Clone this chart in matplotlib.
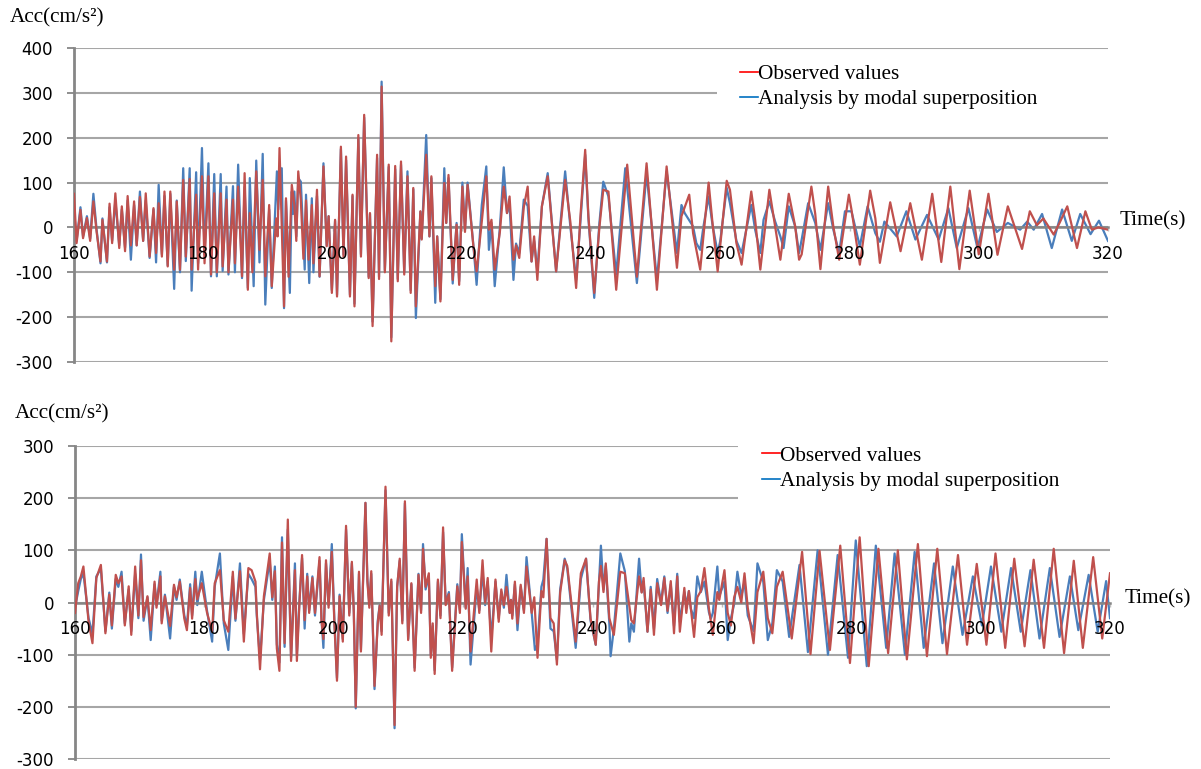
import numpy as np
import matplotlib
matplotlib.use("Agg")
import matplotlib.pyplot as plt
from matplotlib.lines import Line2D
from matplotlib.patches import Rectangle

# (time s, acc cm/s2), peak to peak
top_observed = [
    (160.0, 75), (160.4, -35), (161.0, 39), (161.4, -24), (162.0, 21), (162.5, -30), (163.0, 58),
    (163.5, -10), (164.1, -76), (164.4, 17), (165.1, -76), (165.5, 53), (165.9, -35), (166.4, 76),
    (167.0, -46), (167.4, 47), (167.9, -53), (168.3, 70), (168.8, -40), (169.3, 58), (169.7, -40),
    (170.2, 68), (170.7, -30), (171.1, 76), (171.7, -65), (172.3, 43), (172.7, -57), (173.1, 54),
    (173.6, -65), (174.0, 80), (174.5, -87), (174.9, 80), (175.5, -94), (175.9, 58), (176.4, -94),
    (176.9, 106), (177.3, -65), (177.9, 108), (178.2, -94), (178.9, 73), (179.2, -94), (179.8, 114),
    (180.2, -80), (180.8, 114), (181.2, -105), (181.7, 76), (182.1, -100), (182.7, 76), (183.0, -87),
    (183.6, 62), (183.9, -100), (184.6, 62), (184.9, -80), (185.4, 91), (186.0, -109), (186.4, 121),
    (186.9, -139), (187.2, 32), (187.6, -100), (188.2, 125), (188.7, -50), (189.2, 106), (189.6, -109),
    (190.2, 50), (190.6, -131), (191.3, 20), (191.5, -20), (191.8, 177), (192.5, -176), (192.8, 65),
    (193.2, -110), (193.7, 95), (194.1, 50), (194.4, -30), (194.7, 125), (195.1, 60), (195.5, -70),
    (195.9, 60), (196.3, -72), (196.8, 50), (197.05, -80), (197.6, 84), (198.0, -109), (198.6, 136),
    (199.1, -42), (199.4, 25), (199.9, -146), (200.4, 17), (200.7, -154), (201.3, 180), (201.7, -65),
    (202.1, 158), (202.7, -154), (203.1, 73), (203.4, -176), (204.0, 206), (204.4, -65), (204.9, 251),
    (205.6, -113), (205.8, 32), (206.2, -220), (206.9, 162), (207.2, -115), (207.6, 314), (208.1, -100),
    (208.7, 140), (209.1, -254), (209.7, 137), (210.1, -120), (210.6, 147), (211.1, -105), (211.6, 114),
    (212.1, -146), (212.5, 88), (212.9, -176), (213.6, 36), (213.8, -27), (214.5, 162), (215.0, -20),
    (215.3, 114), (215.9, -131), (216.2, -20), (216.7, -165), (217.3, 99), (217.6, 10), (217.95, 117),
    (218.6, -117), (219.2, 6), (219.6, -128), (220.1, 91), (220.5, -10), (220.9, 95), (221.8, -42),
    (222.3, -98), (223.1, 13), (223.8, 114), (224.2, -5), (224.6, 17), (225.1, -94), (225.9, -10),
    (226.5, 91), (227.0, 32), (227.4, 69), (228.0, -72), (228.4, -40), (228.9, -68), (229.6, 45),
    (230.2, 91), (230.8, -76), (231.2, -20), (231.7, -117), (232.4, 47), (233.3, 114), (234.6, -98),
    (236.0, 106), (236.8, 13), (237.7, -135), (238.4, 32), (239.1, 173), (239.6, 25), (240.5, -146),
    (241.3, 0), (241.9, 84), (242.7, 80), (243.9, -139), (245.6, 140), (247.1, -110), (248.6, 143),
    (250.2, -139), (251.7, 136), (253.3, -90), (254.0, 25), (255.2, 73), (255.8, -13), (256.9, -94),
    (258.2, 100), (258.8, 10), (259.6, -98), (261.0, 104), (261.5, 84), (262.5, -35), (263.3, -83),
    (264.8, 80), (265.4, 17), (266.2, -94), (267.6, 84), (268.5, 2), (269.3, -72), (270.6, 75),
    (271.6, 2), (272.2, -72), (272.6, -60), (274.1, 91), (274.7, 30), (275.5, -93), (276.7, 91),
    (277.5, 2), (278.4, -72), (279.9, 73), (280.3, 40), (281.6, -83), (283.2, 82), (284.0, 20),
    (284.7, -79), (286.3, 56), (287.9, -53), (289.4, 54), (291.2, -72), (292.8, 75), (294.2, -77),
    (295.6, 91), (297.0, -93), (298.6, 82), (300.0, -60), (301.5, 75), (302.9, -61), (304.5, 47),
    (306.7, -48), (307.9, 36), (309.0, 5), (310.0, 20), (311.6, -16), (312.5, 10), (313.7, 47),
    (315.2, -46), (316.5, 36), (317.5, -5), (318.5, 0), (320.0, -5),
]

top_analysis = [
    (160.0, 40), (160.4, -30), (161.0, 45), (161.4, -20), (162.0, 25), (162.5, -25), (163.0, 75),
    (163.5, -5), (164.1, -80), (164.4, 20), (165.1, -78), (165.5, 45), (165.9, -30), (166.4, 60),
    (167.0, -40), (167.4, 40), (167.9, -45), (168.3, 60), (168.8, -72), (169.3, 50), (169.7, -40),
    (170.2, 80), (170.7, -30), (171.1, 60), (171.7, -68), (172.3, 40), (172.7, -78), (173.1, 95),
    (173.6, -60), (174.0, 70), (174.5, -85), (174.9, 75), (175.5, -137), (175.9, 60), (176.4, -100),
    (176.9, 132), (177.3, -75), (177.9, 132), (178.2, -141), (178.9, 123), (179.2, -80), (179.8, 177),
    (180.2, -60), (180.8, 143), (181.2, -109), (181.7, 119), (182.1, -109), (182.7, 119), (183.0, -97),
    (183.6, 91), (183.9, -105), (184.6, 92), (184.9, -100), (185.4, 140), (186.0, -113), (186.4, 90),
    (186.9, -135), (187.2, 110), (187.8, -131), (188.2, 149), (188.7, -78), (189.2, 164), (189.6, -172),
    (190.2, 40), (190.6, -135), (191.4, 125), (191.6, 40), (191.8, 110), (192.15, 132), (192.5, -180),
    (192.8, 60), (193.4, -146), (193.7, 80), (193.9, 30), (194.1, 80), (194.4, -20), (194.7, 110),
    (195.1, 102), (195.7, -94), (195.9, 73), (196.4, -124), (196.8, 65), (197.05, -100), (197.6, 70),
    (198.0, -110), (198.6, 143), (199.1, -40), (199.4, 25), (199.9, -140), (200.4, 15), (200.7, -150),
    (201.3, 175), (201.7, -60), (202.1, 150), (202.7, -150), (203.1, 70), (203.4, -170), (204.0, 200),
    (204.4, -60), (204.9, 245), (205.6, -110), (205.8, 30), (206.2, -210), (206.9, 155), (207.2, -110),
    (207.6, 325), (208.1, -95), (208.7, 135), (209.1, -245), (209.7, 130), (210.1, -115), (210.6, 140),
    (211.1, -100), (211.6, 125), (212.1, -140), (212.5, 85), (212.9, -202), (213.6, 35), (213.8, -25),
    (214.5, 206), (215.0, -20), (215.3, 110), (215.9, -168), (216.2, -20), (216.7, -160), (217.3, 132),
    (217.6, 10), (217.95, 110), (218.6, -125), (219.2, 10), (219.6, -120), (220.1, 100), (220.5, -5),
    (220.9, 100), (221.8, -40), (222.3, -128), (223.1, 50), (223.8, 136), (224.2, -50), (224.6, 10),
    (225.1, -131), (225.9, 0), (226.5, 134), (227.0, 32), (227.4, 50), (228.0, -117), (228.4, -36),
    (228.9, -57), (229.6, 62), (230.2, 48), (230.8, -76), (231.2, -30), (231.7, -98), (232.4, 47),
    (233.3, 121), (234.6, -98), (236.0, 125), (236.8, 2), (237.7, -117), (238.4, 20), (239.1, 162),
    (239.6, 20), (240.5, -157), (241.3, 10), (241.9, 102), (242.7, 69), (243.9, -105), (245.3, 132),
    (247.1, -124), (248.6, 121), (250.2, -117), (251.7, 125), (253.3, -57), (254.0, 50), (254.5, 32),
    (255.8, 2), (256.3, -35), (256.9, -50), (257.4, 2), (258.2, 69), (258.8, 6), (259.6, -57),
    (260.0, -30), (261.0, 88), (261.5, 54), (262.5, -30), (263.3, -57), (264.8, 50), (265.4, -5),
    (266.2, -57), (266.7, 17), (267.6, 58), (268.5, 13), (269.3, -20), (269.8, -46), (270.6, 47),
    (271.6, 2), (272.2, -57), (272.6, -27), (273.6, 54), (274.7, 10), (275.5, -50), (276.7, 54),
    (277.5, -5), (278.4, -57), (279.3, 36), (280.3, 36), (281.6, -42), (282.8, 47), (284.0, -13),
    (284.7, -32), (285.4, 13), (287.3, -20), (288.8, 36), (290.2, -27), (292.0, 28), (293.8, -27),
    (295.3, 43), (296.6, -46), (298.4, 43), (299.8, -46), (301.3, 40), (302.8, -10), (304.5, 10),
    (306.4, -5), (307.5, 13), (308.5, -5), (309.8, 30), (311.3, -46), (312.9, 40), (314.4, -30),
    (315.7, 30), (317.3, -15), (318.6, 15), (320.0, -30),
]

bottom_observed = [
    (160.0, -20), (160.5, 37), (160.9, 50), (161.3, 69), (162.1, -37), (162.7, -78), (163.3, 47),
    (164.0, 72), (164.4, 0), (164.7, -59), (165.3, 15), (165.7, -44), (166.3, 53), (166.7, 37),
    (167.2, 50), (167.7, -44), (168.3, 31), (168.7, -62), (169.3, 69), (169.8, -25), (170.2, 81),
    (170.6, -28), (171.2, 12), (171.7, -53), (172.3, 40), (172.6, -10), (173.2, 50), (173.4, -40),
    (173.9, 12), (174.7, -45), (175.3, 34), (175.7, 10), (176.2, 40), (176.9, -31), (177.3, -53),
    (177.8, 28), (178.1, -31), (178.6, 45), (178.9, 6), (179.6, 37), (180.4, -19), (181.2, -56),
    (181.6, 37), (182.4, 62), (183.0, -34), (183.7, -56), (184.4, 59), (184.8, -31), (185.5, 60),
    (186.1, -75), (186.8, 66), (187.3, 62), (187.9, 40), (188.1, -19), (188.6, -128), (189.2, 12),
    (190.1, 94), (190.5, 10), (190.9, 60), (191.2, -88), (191.6, -131), (192.0, 115), (192.4, -78),
    (192.9, 159), (193.4, -112), (194.0, 62), (194.3, -112), (194.7, 0), (195.1, 91), (195.5, -34),
    (195.9, 50), (196.2, -20), (196.7, 47), (197.1, -20), (197.8, 87), (198.1, -34), (198.4, -70),
    (198.8, 81), (199.2, -10), (199.7, 97), (200.1, -40), (200.5, -150), (200.9, 12), (201.4, -75),
    (201.9, 147), (202.4, -25), (202.8, 78), (203.1, -20), (203.4, -200), (203.9, 59), (204.2, -94),
    (204.9, 191), (205.2, 40), (205.5, -10), (205.8, 60), (206.3, -160), (206.8, -40), (207.1, -6),
    (207.4, -62), (208.0, 222), (208.5, -25), (208.9, 44), (209.4, -235), (209.8, 30), (210.2, 84),
    (210.6, -40), (211.0, 194), (211.5, -72), (212.0, 37), (212.5, -131), (213.1, 53), (213.5, -20),
    (213.8, 103), (214.2, 30), (214.7, 56), (215.0, -106), (215.3, -40), (215.6, -137), (216.1, 44),
    (216.5, -30), (216.9, 144), (217.3, -5), (217.8, 16), (218.3, -131), (219.1, 31), (219.5, -20),
    (219.8, 116), (220.4, -12), (220.7, 50), (221.15, -94), (222.1, 44), (222.5, -20), (223.0, 81),
    (223.4, 0), (223.8, 47), (224.35, -94), (225.0, 44), (225.5, -37), (225.9, 25), (226.3, -5),
    (226.7, 30), (227.2, -20), (227.4, 5), (227.6, -31), (228.0, 40), (228.4, -40), (228.9, 34),
    (229.4, -20), (229.8, 69), (230.6, -20), (231.0, 10), (231.5, -106), (232.1, 22), (232.4, 10),
    (232.9, 122), (233.5, -30), (234.0, -40), (234.5, -119), (235.0, 19), (235.7, 81), (236.1, 70),
    (236.9, -20), (237.4, -75), (238.2, 56), (239.0, 84), (239.7, -31), (240.5, -81), (241.0, 40),
    (241.3, 70), (241.7, 20), (242.05, 75), (242.6, -30), (243.3, -62), (244.3, 59), (245.0, 56),
    (246.0, -34), (246.4, -40), (247.2, 50), (247.6, 19), (247.9, 47), (248.5, -56), (249.0, 25),
    (249.5, -62), (250.0, 37), (250.6, -5), (251.1, 47), (251.6, -16), (252.1, 41), (252.6, -59),
    (253.1, 50), (253.5, -56), (254.2, 28), (254.5, -20), (254.9, 22), (255.7, -66), (256.2, 10),
    (256.75, 22), (257.3, 66), (258.0, -12), (258.6, -62), (259.3, 20), (259.6, 5), (260.4, 62),
    (260.9, -20), (261.4, -44), (261.9, 10), (262.4, 30), (263.0, 0), (263.5, 56), (264.0, -10),
    (264.9, -78), (265.5, 20), (266.4, 59), (267.1, -30), (267.8, -59), (268.5, 30), (269.4, 59),
    (270.8, -69), (272.4, 97), (273.7, -99), (275.1, 99), (276.7, -91), (278.3, 109), (279.8, -116),
    (281.3, 125), (282.7, -122), (284.2, 103), (285.7, -97), (287.2, 100), (288.6, -109), (290.3, 112),
    (291.7, -103), (293.3, 103), (294.8, -99), (296.5, 91), (297.9, -81), (299.4, 74), (300.9, -81),
    (302.3, 94), (303.8, -87), (305.2, 84), (306.8, -84), (308.2, 82), (309.8, -87), (311.3, 103),
    (312.9, -97), (314.4, 80), (315.8, -87), (317.4, 87), (318.8, -69), (320.0, 56),
]

bottom_analysis = [
    (160.0, -10), (160.5, 22), (160.9, 45), (161.3, 56), (162.1, -30), (162.7, -60), (163.3, 50),
    (164.0, 65), (164.4, -5), (164.7, -55), (165.3, 19), (165.7, -50), (166.3, 45), (166.7, 30),
    (167.2, 59), (167.7, -40), (168.3, 25), (168.7, -55), (169.3, 55), (169.8, -30), (170.2, 92),
    (170.6, -35), (171.2, 10), (171.7, -72), (172.3, 35), (172.6, -5), (173.2, 59), (173.4, -35),
    (173.9, 15), (174.7, -69), (175.3, 30), (175.7, 5), (176.2, 44), (176.9, -25), (177.3, -45),
    (177.8, 35), (178.1, -25), (178.6, 59), (178.9, -5), (179.6, 59), (180.4, -15), (181.2, -75),
    (181.6, 30), (182.4, 94), (183.0, -40), (183.7, -91), (184.4, 50), (184.8, -35), (185.5, 75),
    (186.1, -60), (186.8, 55), (187.3, 45), (187.9, 30), (188.1, -25), (188.6, -110), (189.2, 5),
    (190.1, 80), (190.5, 5), (190.9, 69), (191.2, -80), (191.6, -115), (192.0, 125), (192.4, -85),
    (192.9, 140), (193.4, -105), (194.0, 75), (194.3, -100), (194.7, 5), (195.1, 85), (195.5, -50),
    (195.9, 55), (196.2, -15), (196.7, 50), (197.1, -25), (197.8, 80), (198.1, -30), (198.4, -87),
    (198.8, 75), (199.2, -5), (199.7, 112), (200.1, -35), (200.5, -145), (200.9, 15), (201.4, -70),
    (201.9, 140), (202.4, -20), (202.8, 75), (203.1, -15), (203.4, -203), (203.9, 55), (204.2, -90),
    (204.9, 191), (205.2, 45), (205.5, -5), (205.8, 55), (206.3, -166), (206.8, -35), (207.1, -5),
    (207.4, -55), (208.0, 215), (208.5, -20), (208.9, 40), (209.4, -241), (209.8, 30), (210.2, 80),
    (210.6, -35), (211.0, 190), (211.5, -70), (212.0, 35), (212.5, -125), (213.1, 55), (213.5, -15),
    (213.8, 112), (214.2, 25), (214.7, 50), (215.0, -100), (215.3, -45), (215.6, -130), (216.1, 40),
    (216.5, -25), (216.9, 135), (217.3, 0), (217.8, 20), (218.3, -125), (219.1, 35), (219.5, -15),
    (219.8, 131), (220.4, -10), (220.7, 66), (221.15, -119), (222.1, 30), (222.5, -15), (223.0, 60),
    (223.4, -5), (223.8, 40), (224.35, -70), (225.0, 40), (225.5, -30), (225.9, 20), (226.3, -10),
    (226.7, 53), (227.2, -20), (227.4, 5), (227.6, -25), (228.0, 35), (228.4, -53), (228.9, 30),
    (229.4, -15), (229.8, 87), (230.6, -20), (231.1, -91), (231.5, -80), (232.1, 30), (232.4, 44),
    (232.9, 122), (233.5, -50), (234.0, -55), (234.5, -110), (235.0, 25), (235.7, 84), (236.1, 65),
    (236.9, -30), (237.4, -87), (238.2, 45), (239.0, 84), (239.7, -35), (240.5, -81), (241.3, 109),
    (241.7, 25), (242.05, 70), (242.6, -40), (242.8, -103), (243.3, -50), (244.3, 94), (245.0, 60),
    (245.7, -75), (246.0, -40), (246.4, -56), (247.2, 84), (247.6, 20), (247.9, 40), (248.5, -56),
    (249.0, 30), (249.5, -50), (250.0, 45), (250.6, 0), (251.1, 50), (251.6, -20), (252.1, 35),
    (252.6, -45), (253.1, 55), (253.5, -37), (254.2, 20), (254.5, -5), (254.9, 22), (255.2, -12),
    (255.7, -30), (256.2, 50), (256.75, 20), (257.3, 40), (258.0, -19), (258.3, -31), (258.6, -20),
    (259.3, 69), (259.6, 12), (260.4, 40), (260.9, -72), (261.4, -30), (261.9, -3), (262.4, 59),
    (263.0, 12), (263.5, 40), (264.0, -25), (264.9, -55), (265.5, 75), (266.4, 40), (267.1, -72),
    (267.8, -40), (268.5, 62), (269.4, 40), (270.4, -66), (272.0, 72), (273.3, -95), (274.8, 100),
    (276.4, -100), (277.9, 91), (279.5, -106), (280.7, 119), (282.4, -122), (283.8, 109), (285.4, -87),
    (286.7, 94), (288.3, -100), (289.8, 97), (291.2, -87), (292.8, 75), (294.1, -78), (295.7, 69),
    (297.2, -62), (298.8, 50), (300.2, -44), (301.6, 69), (303.2, -56), (304.7, 66), (306.2, -56),
    (307.7, 62), (309.1, -69), (310.7, 66), (312.2, -66), (313.8, 50), (315.1, -53), (316.7, 53),
    (318.1, -56), (319.4, 41), (320.0, -30),
]

x_ticks = list(range(160, 321, 20))
top_y_ticks = list(range(-300, 401, 100))
bottom_y_ticks = list(range(-300, 301, 100))
legend_labels = ["Observed values", "Analysis by modal superposition"]

W, H = 1201, 769
SERIF = "Liberation Serif"

plt.rcParams["axes.unicode_minus"] = False


def px_rect(left, top, right, bottom):
    # pixel box -> figure fraction [l, b, w, h]
    return [left / W, 1 - bottom / H, (right - left) / W, (bottom - top) / H]


def draw_panel(ax, observed, analysis, y_ticks, legend_xy, box):
    t_a, v_a = np.array(analysis).T
    t_o, v_o = np.array(observed).T
    ax.plot(t_a, v_a, color="#4a7ebb", lw=1.6, zorder=2, solid_joinstyle="round")
    ax.plot(t_o, v_o, color="#c0504d", lw=1.6, zorder=3, solid_joinstyle="round")

    ax.set_xlim(160, 320)
    ax.set_ylim(y_ticks[0], y_ticks[-1])
    ax.set_yticks(y_ticks)
    ax.set_xticks(x_ticks)
    ax.set_xticklabels([])
    ax.set_axisbelow(True)
    ax.yaxis.grid(True, color="#a6a6a6", lw=1.5)

    for side in ("top", "right"):
        ax.spines[side].set_visible(False)
    ax.spines["left"].set_color("#868686")
    ax.spines["left"].set_linewidth(2)
    ax.spines["bottom"].set_position(("data", 0))
    ax.spines["bottom"].set_color("#868686")
    ax.spines["bottom"].set_linewidth(1.8)

    ax.tick_params(axis="y", length=5, width=1.3, color="#868686", pad=10,
                   labelsize=12)
    ax.tick_params(axis="x", length=3, width=1, color="#bfbfbf")

    # time labels sit just under the zero line, drawn above the traces
    for t in x_ticks:
        ax.annotate(str(t), (t, 0), xytext=(0, -27), textcoords="offset pixels",
                    ha="center", va="center", fontsize=12, zorder=6,
                    annotation_clip=False)

    # white block behind the legend, hides the grid lines there
    ax.add_patch(Rectangle((box[0], box[1]), box[2], box[3], transform=ax.transAxes,
                           facecolor="white", edgecolor="none", zorder=1, clip_on=False))
    handles = [Line2D([0], [0], color="#ff0000", lw=1.2),
               Line2D([0], [0], color="#0070c0", lw=1.2)]
    ax.legend(handles, legend_labels, loc="upper left", bbox_to_anchor=legend_xy,
              frameon=False, borderpad=0, borderaxespad=0, handlelength=0.85,
              handletextpad=0, labelspacing=0.25,
              prop={"family": SERIF, "size": 15.3})


def main():
    fig = plt.figure(figsize=(W / 100, H / 100), dpi=100)

    ax1 = fig.add_axes(px_rect(74, 48, 1108, 362))
    draw_panel(ax1, top_observed, top_analysis, top_y_ticks,
               legend_xy=(0.644, 0.948), box=(0.622, 0.79, 0.378, 0.185))

    ax2 = fig.add_axes(px_rect(75, 446, 1110, 759))
    draw_panel(ax2, bottom_observed, bottom_analysis, bottom_y_ticks,
               legend_xy=(0.664, 1.0), box=(0.641, 0.80, 0.359, 0.215))

    fig.text(10 / W, 1 - 18 / H, "Acc(cm/s²)", family=SERIF, size=15.3, va="center")
    fig.text(15 / W, 1 - 414 / H, "Acc(cm/s²)", family=SERIF, size=15.3, va="center")
    fig.text(1120 / W, 1 - 221 / H, "Time(s)", family=SERIF, size=15.3, va="center")
    fig.text(1125 / W, 1 - 599 / H, "Time(s)", family=SERIF, size=15.3, va="center")

    fig.savefig("out.png", dpi=100)


if __name__ == "__main__":
    main()
